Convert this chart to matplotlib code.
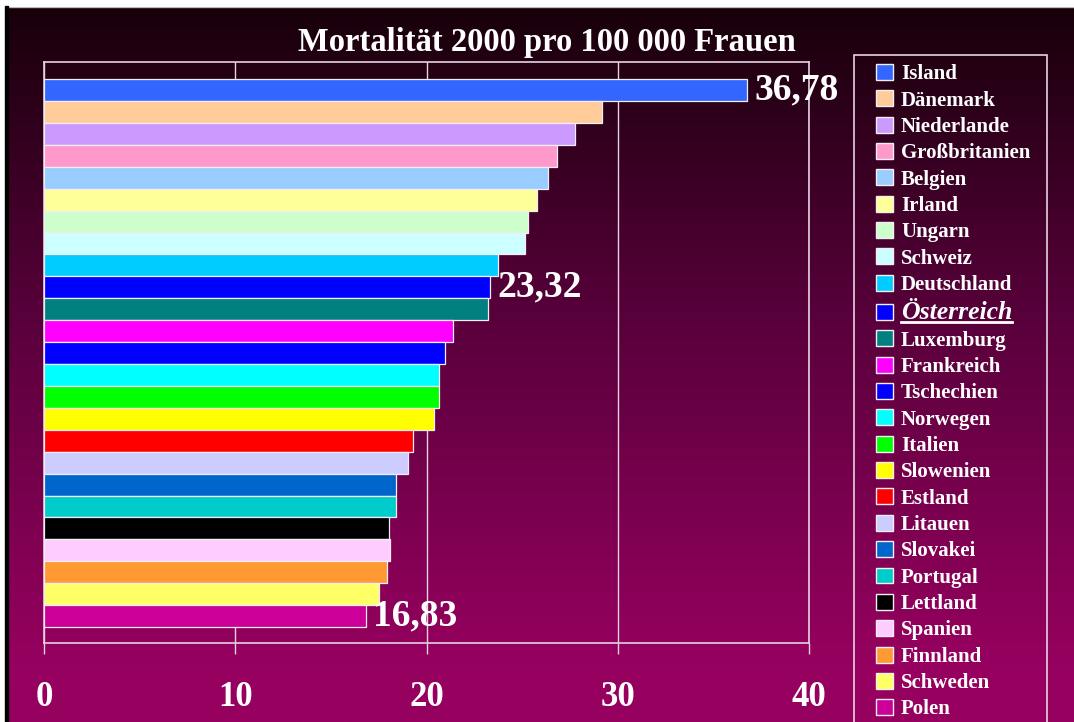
import matplotlib
matplotlib.use("Agg")
import matplotlib.pyplot as plt
import numpy as np
from matplotlib.colors import LinearSegmentedColormap
from matplotlib.patches import Rectangle
from matplotlib.lines import Line2D

countries = ["Island", "Dänemark", "Niederlande", "Großbritanien", "Belgien", "Irland",
             "Ungarn", "Schweiz", "Deutschland", "Österreich", "Luxemburg", "Frankreich",
             "Tschechien", "Norwegen", "Italien", "Slowenien", "Estland", "Litauen",
             "Slovakei", "Portugal", "Lettland", "Spanien", "Finnland", "Schweden", "Polen"]
values = [36.78, 29.18, 27.76, 26.82, 26.35, 25.78, 25.31, 25.15, 23.74, 23.32, 23.22, 21.39,
          20.97, 20.65, 20.66, 20.38, 19.31, 19.05, 18.39, 18.39, 18.06, 18.09, 17.92, 17.50, 16.83]
colors = ["#3366FF", "#FFCC99", "#CC99FF", "#FF99CC", "#99CCFF", "#FFFF99", "#CCFFCC", "#CCFFFF",
          "#00CCFF", "#0000FF", "#008080", "#FF00FF", "#0000FF", "#00FFFF", "#00FF00", "#FFFF00",
          "#FF0000", "#CCCCFF", "#0066CC", "#00CCCC", "#000000", "#FFCCFF", "#FF9933", "#FFFF66",
          "#CC0099"]
labelled = {"Island": "36,78", "Österreich": "23,32", "Polen": "16,83"}
xticks = [0, 10, 20, 30, 40]

W, H = 1074, 722
serif = "Liberation Serif"
line_col = "#e6d2e0"

fig = plt.figure(figsize=(W / 100, H / 100), dpi=100)

# background gradient
bg = fig.add_axes([0, 0, 1, 1], zorder=-10)
cmap = LinearSegmentedColormap.from_list("bg", [(0.0, "#160009"), (0.45, "#5a003c"),
                                               (0.92, "#96005f"), (1.0, "#96005f")])
grad = np.linspace(0, 1, 400).reshape(-1, 1)
bg.imshow(grad, aspect="auto", cmap=cmap, extent=[0, 1, 0, 1], origin="upper")
bg.set_axis_off()

# slide border
fig.patches.append(Rectangle((0, 1 - 6 / H), 1, 6 / H, transform=fig.transFigure,
                             color="white", zorder=5))
fig.patches.append(Rectangle((0, 0), 5 / W, 1, transform=fig.transFigure,
                             color="white", zorder=5))
fig.patches.append(Rectangle((5 / W, 0), 3 / W, 1 - 6 / H, transform=fig.transFigure,
                             color="black", zorder=5))
fig.add_artist(Line2D([0, 1], [1 - 6.5 / H, 1 - 6.5 / H], transform=fig.transFigure,
                      color="#aaaaaa", lw=1))

ax = fig.add_axes([44 / W, 1 - 643 / H, (809 - 44) / W, (643 - 62) / H])
ax.set_facecolor("none")

y = np.arange(len(countries))
bars = ax.barh(y, values, height=1.0, color=colors, edgecolor="#f4eef4", linewidth=0.9,
               zorder=3)
for rect, name in zip(bars, countries):
    rect.set_label(name)

ax.set_xlim(0, 40)
ax.set_ylim(25.23, -1.28)
ax.set_xticks(xticks)
ax.set_xticklabels([str(t) for t in xticks])
ax.set_yticks([])
ax.grid(axis="x", color=line_col, lw=1, zorder=1)
for s in ax.spines.values():
    s.set_color(line_col)
    s.set_linewidth(1.2)
ax.tick_params(axis="x", direction="out", length=8, width=1, color=line_col, pad=19,
               labelsize=25, labelcolor="white")
for t in ax.get_xticklabels():
    t.set_fontfamily(serif)
    t.set_fontweight("bold")

for i, name in enumerate(countries):
    if name in labelled:
        ax.annotate(labelled[name], (values[i], i), xytext=(5, 0), textcoords="offset points",
                    va="center", ha="left", fontsize=27, fontweight="bold", family=serif,
                    color="white", zorder=4)

fig.text(547 / W, 1 - 43 / H, "Mortalität 2000 pro 100 000 Frauen", ha="center", va="center",
         fontsize=23.5, fontweight="bold", family=serif, color="white")

# legend
leg = ax.legend(handles=list(bars), labels=countries, loc="upper left",
                bbox_to_anchor=(876 / W, 1 - 64 / H), bbox_transform=fig.transFigure,
                frameon=False, prop={"family": serif, "weight": "bold", "size": 15},
                labelcolor="white", handlelength=0.8, handleheight=0.8, handletextpad=0.4,
                labelspacing=0.295, borderpad=0, borderaxespad=0)
for h in leg.legend_handles:
    h.set_edgecolor("#f4eef4")
    h.set_linewidth(1.0)
fig.patches.append(Rectangle((854 / W, -0.02), (1047 - 854) / W, 1.02 - 55 / H,
                             transform=fig.transFigure, fill=False, edgecolor=line_col,
                             lw=1.2, zorder=4))

oe = leg.get_texts()[countries.index("Österreich")]
oe.set_style("italic")
oe.set_fontsize(18.5)

fig.canvas.draw()
bb = oe.get_window_extent(fig.canvas.get_renderer())
uy = bb.y0 + 2
fig.add_artist(Line2D([bb.x0 / W, bb.x1 / W], [uy / H, uy / H], transform=fig.transFigure,
                      color="white", lw=2))

fig.savefig("out.png", dpi=100)
